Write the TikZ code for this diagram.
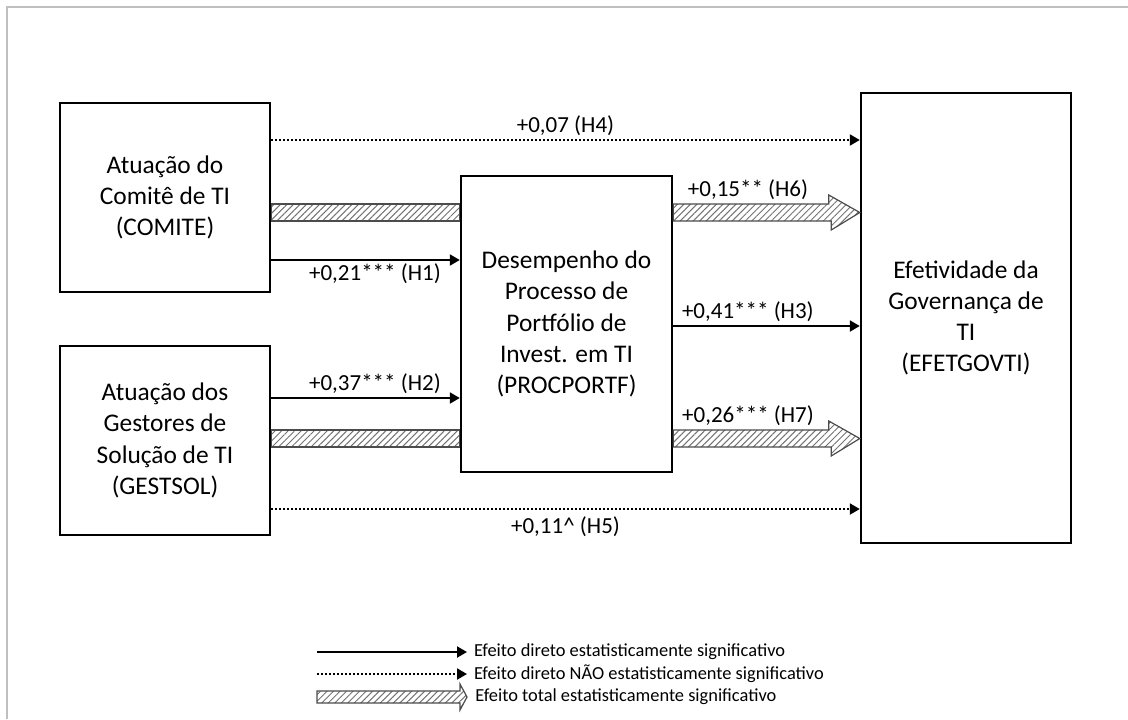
\documentclass[tikz,border=0pt]{standalone}
\usepackage{fontspec}
\setmainfont{Carlito}
\usetikzlibrary{arrows.meta,patterns.meta,backgrounds}

\tikzset{
  construct/.style={draw, line width=1.2pt, align=center, inner sep=2pt,
    font=\fontsize{12.7}{15.6}\selectfont},
  direct/.style={line width=1pt, -{Triangle[length=5pt,width=5.5pt]}},
  nondirect/.style={direct, dash pattern=on 0.8pt off 1.2pt},
  totalfx/.style={draw=black!70, line width=0.6pt,
    pattern={Lines[angle=45,distance=2.3pt,line width=0.5pt]}, pattern color=black!55},
  coef/.style={font=\fontsize{11.5}{13}\selectfont, inner sep=1.5pt},
  legendtxt/.style={font=\fontsize{9.2}{11}\selectfont, anchor=west, inner sep=0pt},
}

\begin{document}
\begin{tikzpicture}[x=0.5pt, y=-0.5pt]
  \useasboundingbox (0,0) rectangle (1128,719);

  % Frame
  \draw[black!25, line width=0.8pt] (7,719) -- (7,7) -- (1128,7);

  % Constructs
  \node[construct, minimum width=105pt, minimum height=94.5pt] (comite) at (165,197.5)
    {Atuação do\\Comitê de TI\\(COMITE)};
  \node[construct, minimum width=105pt, minimum height=94.5pt] (gestsol) at (165,440.5)
    {Atuação dos\\Gestores de\\Solução de TI\\(GESTSOL)};
  \node[construct, minimum width=105.5pt, minimum height=148pt] (procportf) at (566.5,324)
    {Desempenho do\\Processo de\\Portfólio de\\Invest. em TI\\(PROCPORTF)};
  \node[construct, minimum width=105pt, minimum height=225pt] (efetgovti) at (966,318)
    {Efetividade da\\Governança de\\TI\\(EFETGOVTI)};

  % Total effects (hatched)
  \begin{scope}[on background layer]
    \path[totalfx] (comite.east |- 0,204) rectangle (procportf.west |- 0,221);
    \path[totalfx] (gestsol.east |- 0,430) rectangle (procportf.west |- 0,447);
  \end{scope}
  \path[totalfx] (procportf.east |- 0,221) -- ++(158,0) -- ++(0,9)
    -- (efetgovti.west |- 0,212.5) -- ++(-31,-17.5) -- ++(0,9)
    -- (procportf.east |- 0,204) -- cycle;
  \path[totalfx] (procportf.east |- 0,447) -- ++(158,0) -- ++(0,9)
    -- (efetgovti.west |- 0,438.5) -- ++(-31,-17.5) -- ++(0,9)
    -- (procportf.east |- 0,430) -- cycle;
  \node[coef, above] at (748,203) {+0,15** (H6)};
  \node[coef, above] at (748,429) {+0,26*** (H7)};

  % Direct effects
  \draw[nondirect] (comite.east |- 0,140) -- node[coef, above] {+0,07 (H4)} (efetgovti.west |- 0,140);
  \draw[direct] (comite.east |- 0,260) -- node[coef, below, pos=0.55] {+0,21*** (H1)} (procportf.west |- 0,260);
  \draw[direct] (gestsol.east |- 0,398) -- node[coef, above, pos=0.55] {+0,37*** (H2)} (procportf.west |- 0,398);
  \draw[direct] (procportf.east |- 0,326) -- node[coef, above, pos=0.4] {+0,41*** (H3)} (efetgovti.west |- 0,326);
  \draw[nondirect] (gestsol.east |- 0,509) -- node[coef, below, yshift=-2pt] {+0,11\^{} (H5)} (efetgovti.west |- 0,509);

  % Legend
  \coordinate (leg1) at (317,652);
  \coordinate (leg2) at (317,674);
  \coordinate (leg3) at (317,697);
  \draw[direct] (leg1) -- ++(150,0) node[legendtxt, right=3pt] {Efeito direto estatisticamente significativo};
  \draw[nondirect] (leg2) -- ++(150,0) node[legendtxt, right=3pt] {Efeito direto NÃO estatisticamente significativo};
  \path[totalfx] ([yshift=-3pt]leg3) -- ++(143,0) -- ++(0,7) -- ++(7,-13) -- ++(-7,-13)
    -- ++(0,7) -- ++(-143,0) -- cycle;
  \node[legendtxt] at ([xshift=4pt]leg3 -| 467,0) {Efeito total estatisticamente significativo};
\end{tikzpicture}
\end{document}
